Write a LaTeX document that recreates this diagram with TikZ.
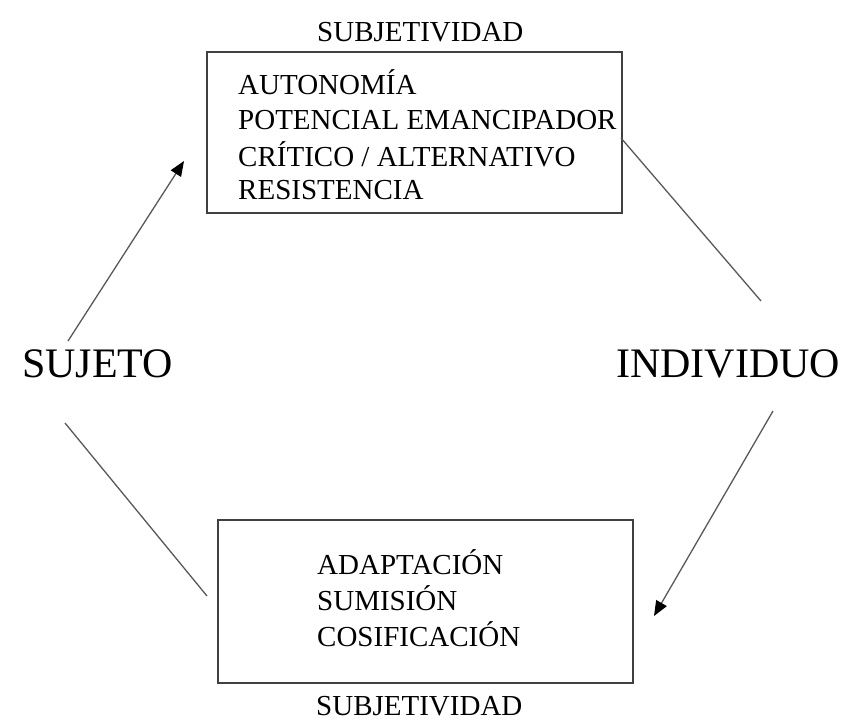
\documentclass[tikz,border=0pt]{standalone}
\usepackage{fontspec}
\setmainfont{Liberation Serif}
\usetikzlibrary{arrows.meta}
\begin{document}
\begin{tikzpicture}[x=1pt,y=-1pt,
  boxtext/.style={anchor=base west,inner sep=0pt,font=\fontsize{29}{35}\selectfont,text=black},
  bigtext/.style={anchor=base west,inner sep=0pt,font=\fontsize{42}{50}\selectfont,text=black},
  frame/.style={draw=black!75,line width=1.5pt,inner sep=0pt},
  conn/.style={draw=black!65,line width=1.3pt},
  arr/.style={conn,-{Triangle[length=15pt,width=12pt,color=black,fill=black]}}]
\useasboundingbox[fill=white] (0,0) rectangle (846,724);
% boxes
\node[frame,anchor=north west,minimum width=415pt,minimum height=161pt] (top) at (206,51) {};
\node[frame,anchor=north west,minimum width=415pt,minimum height=163pt] (bot) at (217,519) {};
% titles
\node[boxtext] (ttop) at (317,41) {SUBJETIVIDAD};
\node[boxtext] (tbot) at (316,715) {SUBJETIVIDAD};
% top box text
\node[boxtext] (t1) at (238,94) {AUTONOMÍA};
\node[boxtext] (t2) at (238,129) {POTENCIAL EMANCIPADOR};
\node[boxtext] (t3) at (238,166) {CRÍTICO / ALTERNATIVO};
\node[boxtext] (t4) at (238,199) {RESISTENCIA};
% bottom box text
\node[boxtext] (b1) at (317,574) {ADAPTACIÓN};
\node[boxtext] (b2) at (317,610) {SUMISIÓN};
\node[boxtext] (b3) at (317,646) {COSIFICACIÓN};
% side labels
\node[bigtext] (suj) at (22,377) {SUJETO};
\node[bigtext] (ind) at (616,377) {INDIVIDUO};
% connector ends
\coordinate (a1) at (68,341);
\coordinate (a2) at (184,161);
\coordinate (c1) at (621,138);
\coordinate (c2) at (761,301);
\coordinate (d1) at (773,411);
\coordinate (d2) at (654,616);
\coordinate (e1) at (65,423);
\coordinate (e2) at (207,596);
\draw[arr] (a1) -- (a2);
\draw[conn] (c1) -- (c2);
\draw[arr] (d1) -- (d2);
\draw[conn] (e1) -- (e2);
\end{tikzpicture}
\end{document}
